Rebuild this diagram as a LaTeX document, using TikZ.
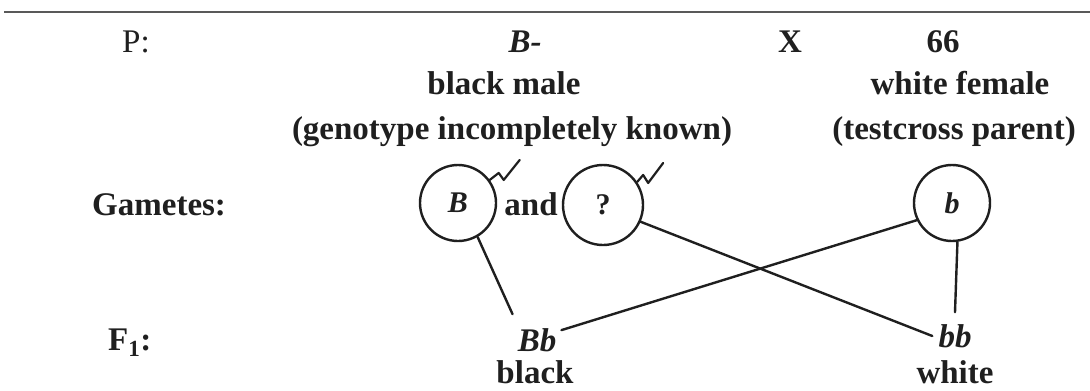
\documentclass[tikz,border=0pt]{standalone}
\usepackage{fontspec}
\setmainfont{Liberation Serif}
\definecolor{ink}{gray}{0.12}
\definecolor{rulegray}{gray}{0.35}
\begin{document}
\begin{tikzpicture}[x=1pt,y=-1pt,
  txt/.style={inner sep=0pt, anchor=base, text=ink, font=\fontsize{33}{40}\selectfont\bfseries},
  gam/.style={circle, draw=ink, line width=2.4pt, inner sep=0pt},
  link/.style={draw=ink, line width=2.4pt, line cap=round},
  tick/.style={draw=ink, line width=2.2pt, line join=round, line cap=round}]
\useasboundingbox[fill=white] (0,0) rectangle (1090,391);
\draw[rulegray, line width=2.5pt] (4,12) -- (1090,12);
% row P
\node[txt, anchor=base west, font=\fontsize{33}{40}\selectfont] (tP) at (122,52) {P:};
\node[txt, font=\fontsize{33}{40}\selectfont\bfseries\itshape] (tBm) at (525,52) {B-};
\node[txt] (tX) at (790,52) {X};
\node[txt] (t66) at (943,52) {66};
\node[txt] (tblackmale) at (504,94) {black male};
\node[txt] (twhitefemale) at (960,94) {white female};
\node[txt] (tgeno) at (512,139) {(genotype incompletely known)};
\node[txt] (ttest) at (954,139) {(testcross parent)};
% gametes
\node[txt, anchor=base west] (tgam) at (92,215) {Gametes:};
\node[gam, minimum size=76pt] (cB) at (458,203) {};
\node[txt, font=\fontsize{30}{36}\selectfont\bfseries\itshape] at (cB.center) [anchor=center] {B};
\node[txt] (tand) at (531,215) {and};
\node[gam, minimum size=80pt] (cQ) at (603,205) {};
\node[txt, font=\fontsize{30}{36}\selectfont\bfseries] at (cQ.center) [anchor=center] {?};
\node[gam, minimum size=76pt] (cb) at (952,203) {};
\node[txt, font=\fontsize{30}{36}\selectfont\bfseries\itshape] at (cb.center) [anchor=center] {b};
% checks
\draw[tick] (cB.36) -- ++(9,-7) -- ++(5,7) -- ++(16,-20);
\draw[tick] (cQ.34) -- ++(6,-7) -- ++(5,8) -- ++(15,-20);
% F1
\node[txt, anchor=base west] (tF) at (108,350) {F\textsubscript{1}:};
\node[txt, font=\fontsize{33}{40}\selectfont\bfseries\itshape, anchor=center, inner xsep=5pt, inner ysep=14pt] (nBb) at (537,340) {Bb};
\node[txt, font=\fontsize{33}{40}\selectfont\bfseries\itshape, anchor=center, inner xsep=6pt, inner ysep=12pt] (nbb) at (955,336) {bb};
\node[txt] (tblack) at (535,383) {black};
\node[txt] (twhite) at (955,383) {white};
% connectors
\draw[link] (cB.-60) -- (nBb.north west);
\draw[link] (cQ.-24) -- (nbb.west);
\draw[link] (cb.-154) -- (nBb.22);
\draw[link] (cb.-82) -- (nbb.north);
\end{tikzpicture}
\end{document}
